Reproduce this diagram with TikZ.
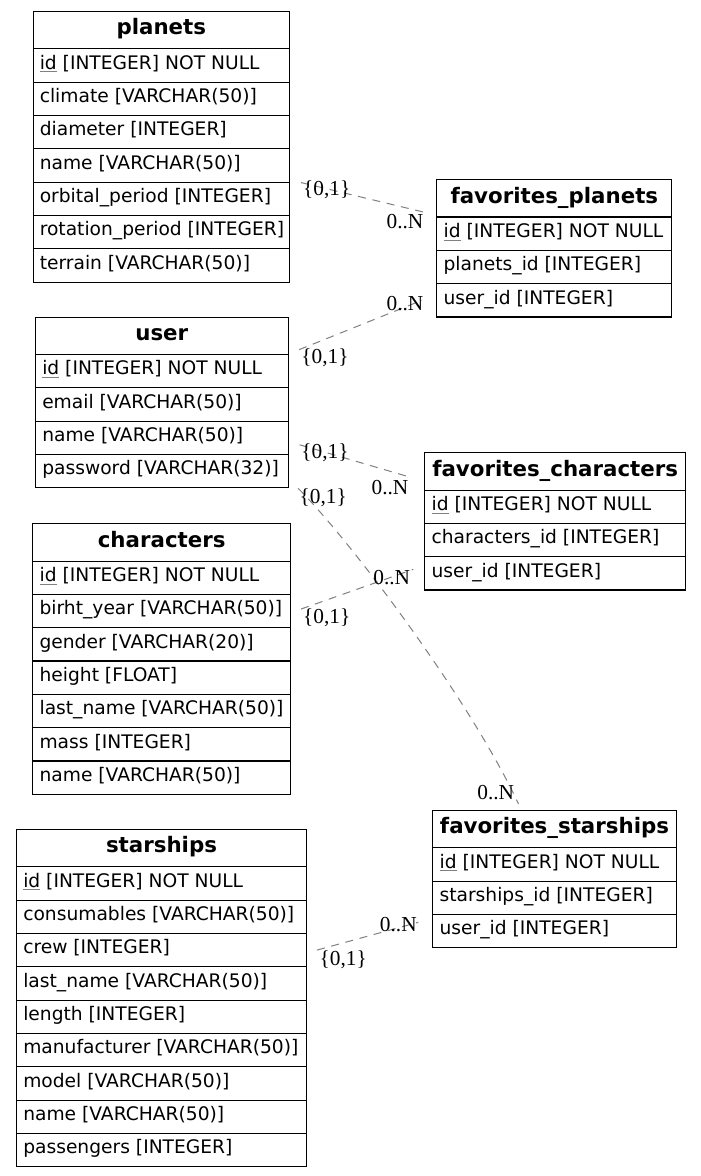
\documentclass[tikz,border=0pt]{standalone}
\usepackage{fontspec}
\usetikzlibrary{calc}
\newfontfamily\tabfont{DejaVu Sans}
\newfontfamily\lblfont{Liberation Serif}
\definecolor{edgegray}{RGB}{128,128,128}
\newcommand\idu{\leavevmode\setbox0\hbox{id}\rlap{\color{gray}\rule[-2.2pt]{\wd0}{0.7pt}}\box0}
\tikzset{
 tabbox/.style={draw=black, line width=0.8pt, rectangle, inner sep=0pt},
 hdrtext/.style={font=\tabfont\bfseries\fontsize{16}{18}\selectfont, inner sep=0pt},
 rowtext/.style={font=\tabfont\fontsize{14}{16}\selectfont, inner sep=0pt},
 card/.style={font=\lblfont\fontsize{16}{18}\selectfont, inner sep=0pt, anchor=base},
 rel/.style={draw=edgegray, line width=0.75pt, dash pattern=on 6pt off 5pt},
}
\newcommand\dbtab[6]{%
 \node[tabbox, minimum width=#4*0.75pt, minimum height=27.9pt, anchor=north west] (#1) at (#2,#3) {};
 \node[hdrtext, anchor=base] (#1-t) at ([yshift=10.8pt]#1.south) {#5};
 \foreach \txt [count=\i] in {#6} {
   \pgfmathsetmacro\yy{#3+37.2+(\i-1)*33.33}
   \node[tabbox, minimum width=#4*0.75pt, minimum height=25pt, anchor=north west] (#1-\i) at (#2,\yy) {};
   \node[rowtext, anchor=base west] (#1-\i-t) at ([xshift=5.25pt,yshift=10pt]#1-\i.south west) {\txt};
 }%
}
\begin{document}
\begin{tikzpicture}[x=0.75pt,y=-0.75pt]
\fill[white] (0,0) rectangle (700,1176);
\useasboundingbox (0,0) rectangle (700,1176);

\dbtab{planets}{32.5}{11}{256.5}{planets}{\idu{} [INTEGER] NOT NULL, climate [VARCHAR(50)], diameter [INTEGER], name [VARCHAR(50)], orbital\_period [INTEGER], rotation\_period [INTEGER], terrain [VARCHAR(50)]}
\dbtab{fp}{436.3}{179.3}{235}{favorites\_planets}{\idu{} [INTEGER] NOT NULL, planets\_id [INTEGER], user\_id [INTEGER]}
\dbtab{user}{35}{316.7}{252.5}{user}{\idu{} [INTEGER] NOT NULL, email [VARCHAR(50)], name [VARCHAR(50)], password [VARCHAR(32)]}
\dbtab{fc}{424.3}{452.3}{260.7}{favorites\_characters}{\idu{} [INTEGER] NOT NULL, characters\_id [INTEGER], user\_id [INTEGER]}
\dbtab{characters}{32.3}{523.3}{257.7}{characters}{\idu{} [INTEGER] NOT NULL, birht\_year [VARCHAR(50)], gender [VARCHAR(20)], height [FLOAT], last\_name [VARCHAR(50)], mass [INTEGER], name [VARCHAR(50)]}
\dbtab{fs}{432.3}{810}{243.4}{favorites\_starships}{\idu{} [INTEGER] NOT NULL, starships\_id [INTEGER], user\_id [INTEGER]}
\dbtab{starships}{16}{829}{290}{starships}{\idu{} [INTEGER] NOT NULL, consumables [VARCHAR(50)], crew [INTEGER], last\_name [VARCHAR(50)], length [INTEGER], manufacturer [VARCHAR(50)], model [VARCHAR(50)], name [VARCHAR(50)], passengers [INTEGER]}

% connector ends
\coordinate (e1a) at ($(planets-4.south east)+(11,0)$);
\coordinate (e1b) at ($(fp-1.north west)+(-11,-4)$);
\coordinate (e2a) at ($(user.south east)+(10.5,-5.3)$);
\coordinate (e2b) at ($(fp-3.west)+(-14.5,0)$);
\coordinate (e3a) at ($(user-3.east)+(11,7)$);
\coordinate (e3b) at ($(fc.west)+(-12.6,6.2)$);
\coordinate (e4a) at ($(user-4.south east)+(9.5,0)$);
\coordinate (e4b) at ($(fs.north)+(-36,-6)$);
\coordinate (e5a) at ($(characters-2.east)+(10,-2)$);
\coordinate (e5b) at ($(fc-3.west)+(-11,-4)$);
\coordinate (e6a) at ($(starships-3.east)+(10,0)$);
\coordinate (e6b) at ($(fs-3.west)+(-14,-8.8)$);

\draw[rel] (e1a) -- (e1b);
\draw[rel] (e2a) -- (e2b);
\draw[rel] (e3a) -- (e3b);
\draw[rel] (e4a) .. controls (350,540) and (470,700) .. (e4b);
\draw[rel] (e5a) -- (e5b);
\draw[rel] (e6a) -- (e6b);

\node[card] (l1a) at (326.7,195.8) {\{0,1\}};
\node[card] (l1b) at (405,228.8) {0..N};
\node[card] (l2a) at (405,310.5) {0..N};
\node[card] (l2b) at (325,363.5) {\{0,1\}};
\node[card] (l3a) at (325,458.2) {\{0,1\}};
\node[card] (l3b) at (390,494.8) {0..N};
\node[card] (l4a) at (323.3,503.2) {\{0,1\}};
\node[card] (l4b) at (495.7,799.2) {0..N};
\node[card] (l5a) at (326.7,623.8) {\{0,1\}};
\node[card] (l5b) at (391.7,584.8) {0..N};
\node[card] (l6a) at (343.3,965.8) {\{0,1\}};
\node[card] (l6b) at (398.3,931.5) {0..N};
\end{tikzpicture}
\end{document}
